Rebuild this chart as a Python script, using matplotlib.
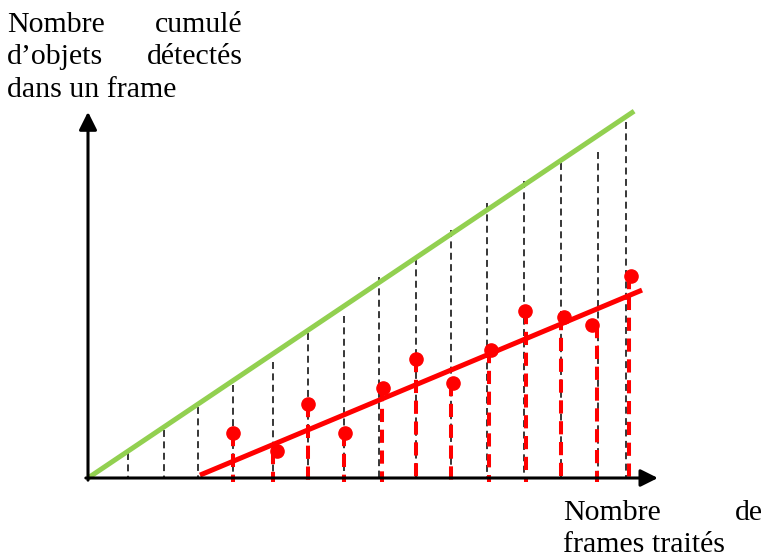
import matplotlib
matplotlib.use("Agg")
import matplotlib.pyplot as plt

plt.rcParams['font.family'] = ['Liberation Serif', 'DejaVu Serif']
plt.rcParams['lines.scale_dashes'] = False

# positions des frames (lignes pointillées noires) et hauteur idéale
frames_x = [1.11, 2.11, 3.06, 4.03, 5.14, 6.11, 7.11, 8.08, 9.11, 10.08, 11.08, 12.11, 13.14, 14.17, 14.94]
frames_top = [0.69, 1.33, 1.97, 2.58, 3.22, 4.03, 4.50, 5.58, 6.11, 6.89, 7.64, 8.25, 8.75, 9.06, 9.89]

# objets détectés (points rouges)
det_x = [4.03, 5.25, 6.11, 7.14, 8.19, 9.11, 10.14, 11.19, 12.14, 13.22, 14.00, 15.08]
det_y = [1.25, 0.75, 2.06, 1.25, 2.50, 3.31, 2.64, 3.56, 4.64, 4.47, 4.25, 5.61]
stem_x = [4.03, 5.14, 6.11, 7.11, 8.17, 9.11, 10.08, 11.14, 12.17, 13.14, 14.14, 15.03]

# droites : idéale (verte) et tendance détectée (rouge)
ideal_x = [0.0, 15.17]
ideal_y = [0.0, 10.19]
trend_x = [3.11, 15.39]
trend_y = [0.08, 5.22]

x_axis_end = 15.83
y_axis_end = 10.17

fig = plt.figure(figsize=(7.65, 5.57), dpi=100)
ax = fig.add_axes([0, 0, 1, 1])
ax.set_xlim(-88 / 36, (765 - 88) / 36)
ax.set_ylim(-(557 - 478) / 36, 478 / 36)
ax.axis('off')

# pointillés noirs
for x, top in zip(frames_x, frames_top):
    ax.plot([x, x], [top, 0], color='black', lw=1.1, linestyle=(0, (5, 3.2)), zorder=2)

# droite idéale
ax.plot(ideal_x, ideal_y, color='#92D050', lw=3.6, solid_capstyle='butt', zorder=3)

# tiges rouges pointillées
for x, y in zip(stem_x, det_y):
    ax.plot([x, x], [y, -0.12], color='red', lw=2.9, linestyle=(0, (9.5, 5.5)), zorder=4)

# droite rouge
ax.plot(trend_x, trend_y, color='red', lw=3.6, solid_capstyle='butt', zorder=5)

# points
ax.plot(det_x, det_y, 'o', color='red', markersize=9.5, zorder=6)

# axes avec flèches
ax.annotate('', xy=(0, y_axis_end), xytext=(0, -0.06),
            arrowprops=dict(arrowstyle='-|>', color='black', lw=2.2, mutation_scale=27, shrinkA=0, shrinkB=0),
            zorder=7)
ax.annotate('', xy=(x_axis_end, 0), xytext=(-0.06, 0),
            arrowprops=dict(arrowstyle='-|>', color='black', lw=2.2, mutation_scale=26, shrinkA=0, shrinkB=0),
            zorder=7)

W, H = 765, 557
fs = 21.5


def txt(px, py, s, ha='left'):
    fig.text(px / W, 1 - py / H, s, ha=ha, va='baseline', fontsize=fs, color='black')


# légende de l'axe vertical (texte justifié)
txt(7, 32, "Nombre")
txt(243, 32, "cumulé", ha='right')
txt(7, 64, "d\u2019objets")
txt(243, 64, "détectés", ha='right')
txt(7, 97, "dans un frame")

# légende de l'axe horizontal
txt(563, 520, "Nombre")
txt(763, 520, "de", ha='right')
txt(563, 552, "frames traités")

fig.savefig("out.png", dpi=100)
